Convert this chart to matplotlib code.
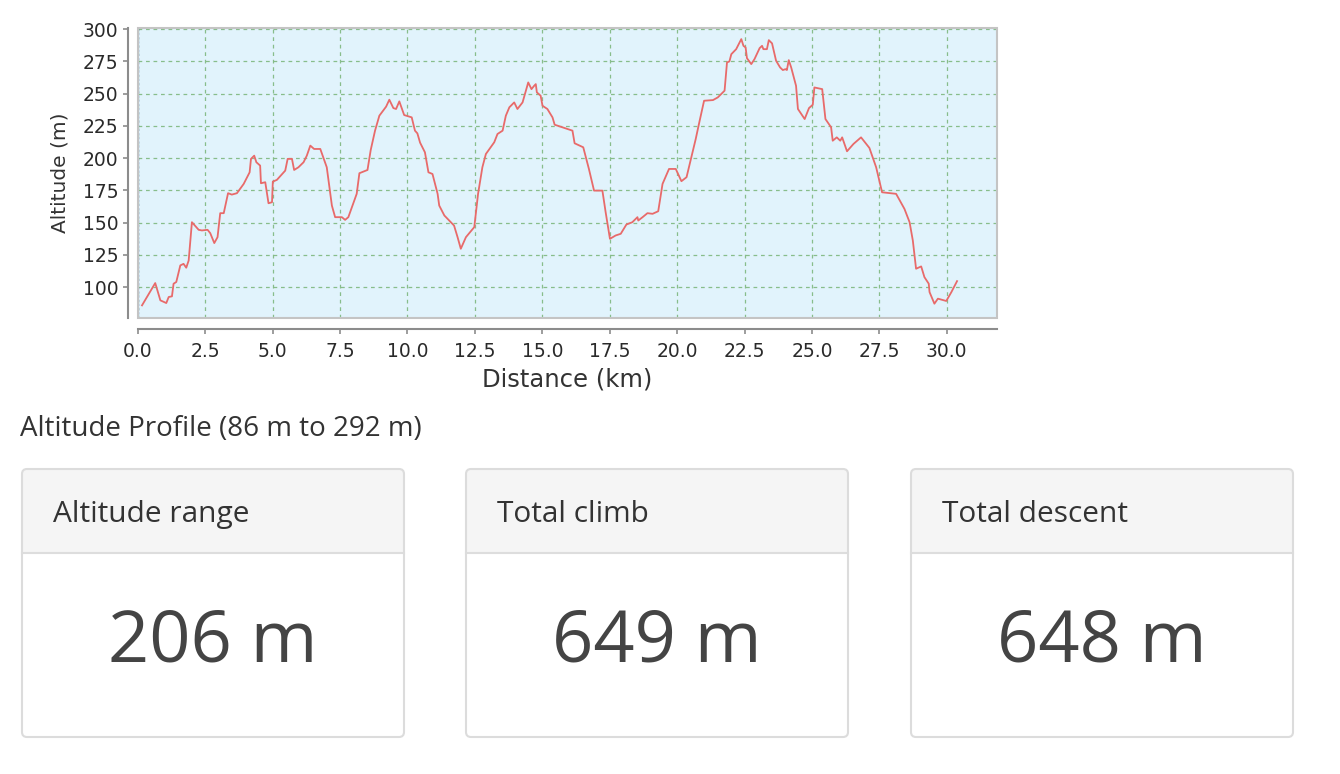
import numpy as np
import matplotlib
matplotlib.use('Agg')
import matplotlib.pyplot as plt
from matplotlib.patches import FancyBboxPatch, Rectangle


# altitude profile
dist_km = [0.16, 0.65, 0.84, 1.06, 1.15, 1.27, 1.33, 1.43, 1.58, 1.70, 1.80, 1.89,
           2.01, 2.26, 2.38, 2.59, 2.69, 2.84, 2.96, 3.06, 3.19, 3.35, 3.49, 3.68,
           3.93, 4.15, 4.20, 4.32, 4.40, 4.54, 4.57, 4.73, 4.85, 4.98, 5.01, 5.16,
           5.47, 5.56, 5.72, 5.80, 5.96, 6.15, 6.27, 6.40, 6.54, 6.77, 7.01, 7.20,
           7.32, 7.57, 7.69, 7.81, 8.12, 8.22, 8.52, 8.64, 8.80, 8.96, 9.21, 9.33,
           9.48, 9.58, 9.70, 9.88, 10.16, 10.28, 10.37, 10.47, 10.65, 10.78, 10.93,
           11.12, 11.18, 11.37, 11.55, 11.73, 11.86, 11.98, 12.17, 12.48, 12.62,
           12.78, 12.91, 13.22, 13.34, 13.53, 13.65, 13.78, 13.96, 14.08, 14.27,
           14.48, 14.60, 14.70, 14.76, 14.80, 14.94, 15.01, 15.19, 15.38, 15.46,
           15.75, 16.12, 16.20, 16.52, 16.73, 16.92, 17.23, 17.35, 17.51, 17.72,
           17.91, 18.12, 18.34, 18.53, 18.56, 18.72, 18.90, 19.09, 19.30, 19.46,
           19.70, 19.95, 20.16, 20.35, 20.50, 20.69, 20.81, 21.00, 21.33, 21.51,
           21.76, 21.85, 21.94, 22.01, 22.19, 22.38, 22.46, 22.54, 22.59, 22.75,
           22.87, 23.06, 23.15, 23.20, 23.33, 23.40, 23.52, 23.67, 23.82, 23.92,
           24.02, 24.07, 24.14, 24.23, 24.41, 24.48, 24.73, 24.89, 25.03, 25.09,
           25.38, 25.50, 25.71, 25.77, 25.92, 26.05, 26.12, 26.30, 26.54, 26.82,
           27.13, 27.38, 27.60, 28.12, 28.43, 28.62, 28.74, 28.86, 29.05, 29.17,
           29.33, 29.36, 29.54, 29.67, 29.98, 30.17, 30.38]
alt_m = [85.8, 103.1, 89.7, 87.6, 92.3, 92.8, 102.6, 103.9, 116.8, 118.0, 115.0, 120.6,
         150.3, 144.4, 143.9, 144.4, 141.8, 134.1, 138.7, 157.3, 157.3, 172.8, 171.7, 172.8,
         180.0, 189.0, 199.4, 201.9, 196.8, 194.2, 180.5, 181.3, 165.0, 165.8, 181.8, 183.1,
         190.3, 199.4, 199.4, 190.8, 192.9, 196.8, 201.9, 209.7, 207.1, 207.1, 192.9, 163.2,
         154.2, 154.2, 152.1, 154.2, 172.3, 188.3, 190.8, 206.3, 221.3, 232.9, 239.9, 245.3,
         238.8, 238.1, 244.0, 233.4, 231.6, 221.3, 219.2, 212.0, 204.5, 189.0, 187.7,
         172.3, 163.2, 155.5, 151.6, 147.7, 138.7, 129.7, 138.7, 146.5, 172.3,
         192.9, 203.2, 212.3, 218.7, 221.3, 232.9, 239.4, 243.2, 238.1, 243.2,
         258.7, 253.5, 256.1, 257.4, 251.0, 248.4, 240.6, 238.1, 231.6, 225.9,
         223.9, 221.3, 211.5, 208.4, 191.6, 174.8, 174.8, 158.1, 137.4, 140.0,
         141.3, 148.5, 150.3, 154.2, 151.6, 154.2, 157.3, 156.8, 158.8, 180.0,
         191.6, 191.6, 182.1, 185.2, 198.1, 214.8, 226.5, 244.5, 245.0, 247.1,
         252.3, 274.2, 275.0, 280.6, 284.5, 292.3, 287.1, 285.8, 277.5, 272.9,
         276.8, 285.3, 287.1, 284.5, 284.5, 291.5, 289.0, 275.5, 270.3, 268.3,
         269.0, 268.3, 276.0, 270.3, 256.1, 238.1, 230.3, 238.8, 241.4, 254.8,
         253.5, 230.3, 223.9, 213.5, 216.1, 213.5, 216.1, 205.3, 211.0, 216.1,
         207.9, 192.9, 173.5, 172.3, 160.6, 150.3, 136.1, 114.2, 116.0, 107.7,
         102.6, 96.1, 87.1, 91.0, 89.2, 96.1, 104.6]

x_ticks = np.arange(0, 30.1, 2.5)
y_ticks = np.arange(100, 301, 25)

profile_title = 'Altitude Profile (86 m to 292 m)'
card_titles = ['Altitude range', 'Total climb', 'Total descent']
card_values = ['206 m', '649 m', '648 m']

W, H = 1340, 774
fig = plt.figure(figsize=(W / 100, H / 100), dpi=100)
fig.patch.set_facecolor('white')

# page overlay in pixel units (cards and caption)
page = fig.add_axes([0, 0, 1, 1], zorder=0)
page.set_xlim(0, W)
page.set_ylim(H, 0)
page.axis('off')

page.text(20, 436, profile_title, fontsize=20, color='#333333',
          family='Open Sans', va='baseline', ha='left')

card_left = [22, 466, 911]
card_w = 382
top, mid, bot = 469, 553, 737
for i in range(len(card_titles)):
    x0 = card_left[i]
    page.add_patch(FancyBboxPatch((x0, top), card_w, bot - top,
                                  boxstyle='round,pad=0,rounding_size=5',
                                  fc='white', ec='none', zorder=1))
    page.add_patch(FancyBboxPatch((x0, top), card_w, mid - top,
                                  boxstyle='round,pad=0,rounding_size=5',
                                  fc='#f5f5f5', ec='none', zorder=2))
    page.add_patch(Rectangle((x0, top + 10), card_w, mid - top - 10,
                             fc='#f5f5f5', ec='none', zorder=2))
    page.plot([x0, x0 + card_w], [mid, mid], color='#dddddd', lw=1.5, zorder=3)
    page.add_patch(FancyBboxPatch((x0, top), card_w, bot - top,
                                  boxstyle='round,pad=0,rounding_size=5',
                                  fc='none', ec='#dcdcdc', lw=1.5, zorder=4))
    page.text(x0 + 31, 522, card_titles[i], fontsize=21.5, color='#333333',
              family='Open Sans', va='baseline', ha='left', zorder=5)
    page.text(x0 + card_w / 2, 661, card_values[i], fontsize=52, color='#444444',
              family='Open Sans', va='baseline', ha='center', zorder=5)

# elevation chart
ax = fig.add_axes([137.7 / W, 1 - 318 / H, (996.7 - 137.7) / W, (318 - 27.5) / H], zorder=2)
ax.set_facecolor('#e1f3fc')
ax.plot(dist_km, alt_m, color='#e86a6a', lw=1.3, zorder=3)
ax.axvline(0, color='#5a6fb0', lw=1.0, ls=(0, (1.5, 1.5)), zorder=2)

ax.set_xlim(0, 31.85)
ax.set_ylim(76, 301.3)
ax.set_xticks(x_ticks)
ax.set_yticks(y_ticks)
ax.set_xticklabels(['%.1f' % v for v in x_ticks])
ax.grid(True, color='#7fb77f', ls=(0, (3, 3)), lw=0.9, alpha=0.9)
ax.set_axisbelow(True)

for s in ['top', 'right']:
    ax.spines[s].set_visible(False)
ax.spines['left'].set_position(('outward', 7.2))
ax.spines['bottom'].set_position(('outward', 8.1))
for s in ['left', 'bottom']:
    ax.spines[s].set_color('#8c8c8c')
    ax.spines[s].set_linewidth(1.5)
ax.tick_params(axis='both', colors='#8c8c8c', length=3.5, width=1.2,
               labelcolor='#2a2a2a', labelsize=13.5)
ax.tick_params(axis='x', pad=6)
ax.tick_params(axis='y', pad=3)

# plot area frame
ax.add_patch(Rectangle((0, 0), 1, 1, transform=ax.transAxes, fill=False,
                       ec='#c4c4c4', lw=1.5, clip_on=False, zorder=4))

ax.set_xlabel('Distance (km)', fontsize=17.5, color='#333333', labelpad=4)
ax.set_ylabel('Altitude (m)', fontsize=14.5, color='#333333', labelpad=10)

fig.savefig('out.png', dpi=100)
